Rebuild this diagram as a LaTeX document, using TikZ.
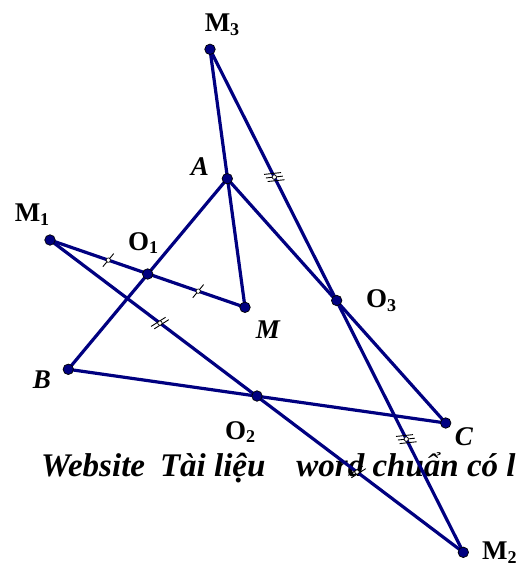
\documentclass[tikz,border=0pt]{standalone}
\usepackage{fontspec}
\setmainfont{Liberation Serif}
\usetikzlibrary{decorations.markings}
\definecolor{navyline}{RGB}{0,0,128}
\newcommand{\mysub}[1]{\raisebox{-0.3ex}{\fontsize{18}{18}\selectfont #1}}
\newcommand{\tickone}{%
  \draw[black,line width=0.9pt] (-3pt,-8pt) -- (3pt,8pt);
  \draw[black,fill=white,line width=0.7pt] (0,0) circle (2.2pt);}
\newcommand{\ticktwo}{%
  \draw[black,line width=0.9pt] (-5pt,-8pt) -- (1pt,8pt);
  \draw[black,line width=0.9pt] (-1pt,-8pt) -- (5pt,8pt);
  \draw[black,fill=white,line width=0.7pt] (0,0) circle (2.2pt);}
\newcommand{\tickthree}{%
  \draw[black,line width=0.9pt] (-7pt,-8pt) -- (-1pt,8pt);
  \draw[black,line width=0.9pt] (-3pt,-8pt) -- (3pt,8pt);
  \draw[black,line width=0.9pt] (1pt,-8pt) -- (7pt,8pt);
  \draw[black,fill=white,line width=0.7pt] (0,0) circle (2.2pt);}
\begin{document}
\begin{tikzpicture}[x=1pt,y=-1pt,
  seg/.style={draw=navyline,line width=3.2pt},
  dot/.style={circle,fill=navyline,draw=black,line width=0.7pt,inner sep=0pt,minimum size=10.5pt},
  lbl/.style={font=\fontsize{27}{27}\selectfont\bfseries,inner sep=0pt},
  ilbl/.style={font=\fontsize{27}{27}\selectfont\bfseries\itshape,inner sep=0pt}]
\useasboundingbox (0,0) rectangle (519,566);
\clip (0,0) rectangle (519,566);
% footer text (under the lines)
\node[anchor=base west,inner sep=0pt,font=\fontsize{33}{33}\selectfont\bfseries\itshape] (web) at (41,476.5)
  {Website\hspace{15pt}Tài liệu\hspace{31pt}word chuẩn có l};
% points
\coordinate (M3) at (210,49.3);
\coordinate (A) at (227.3,178.7);
\coordinate (M1) at (50,240);
\coordinate (O1) at (147.7,274);
\coordinate (M) at (245,307.3);
\coordinate (O3) at (336.7,300.5);
\coordinate (B) at (68.3,369.3);
\coordinate (O2) at (257,396);
\coordinate (C) at (445.7,423);
\coordinate (M2) at (463.3,552.3);
% segments
\draw[seg] (A) -- (B) -- (C) -- cycle;
\draw[seg] (M3) -- (M);
\draw[seg,postaction={decorate},decoration={markings,
  mark=at position 0.299 with {\tickone},
  mark=at position 0.76 with {\tickone}}] (M1) -- (M);
\draw[seg,postaction={decorate},decoration={markings,
  mark=at position 0.266 with {\ticktwo},
  mark=at position 0.743 with {\ticktwo}}] (M1) -- (M2);
\draw[seg,postaction={decorate},decoration={markings,
  mark=at position 0.254 with {\tickthree},
  mark=at position 0.775 with {\tickthree}}] (M3) -- (M2);
% dots
\foreach \p in {M3,A,M1,O1,M,O3,B,O2,C,M2}
  \node[dot] (d\p) at (\p) {};
% labels
\node[lbl] (lM3) at (222,25) {M\mysub{3}};
\node[ilbl] (lA) at (200,167) {A};
\node[lbl] (lM1) at (32,215) {M\mysub{1}};
\node[lbl] (lO1) at (143,243) {O\mysub{1}};
\node[ilbl] (lM) at (268,330) {M};
\node[lbl] (lO3) at (381,301) {O\mysub{3}};
\node[ilbl] (lB) at (42,380) {B};
\node[lbl] (lO2) at (240,432) {O\mysub{2}};
\node[ilbl] (lC) at (464,437) {C};
\node[lbl,anchor=west] (lM2) at (482,553) {M\mysub{2}};
\end{tikzpicture}
\end{document}
